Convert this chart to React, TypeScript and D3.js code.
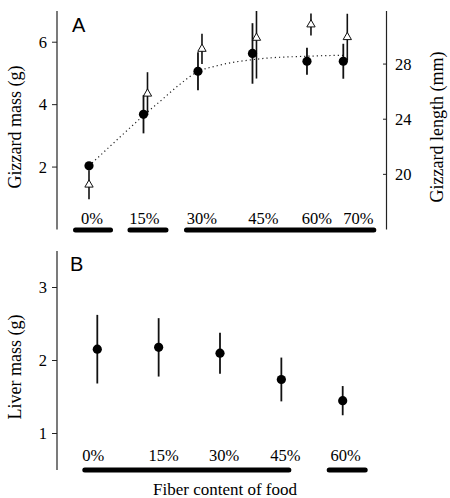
import React from 'react';
import * as d3 from 'd3';

// Panel A: gizzard mass (left axis) and gizzard length (right axis)
const fiberA = [0, 15, 30, 45, 60, 70];
const massMean = [2.04, 3.69, 5.07, 5.64, 5.39, 5.39];
const massErr = [0.08, 0.61, 0.61, 0.97, 0.43, 0.56];
const lengthMean = [19.25, 25.85, 29.1, 29.9, 30.87, 29.95];
const lengthErr = [1.05, 1.56, 1.1, 2.95, 0.8, 1.7];

// saturating fit through the mass means
const fitFiber = [0, 5, 10, 15, 20, 25, 30, 35, 40, 45, 50, 55, 60, 65, 70];
const fitMass = [2.04, 2.58, 3.12, 3.65, 4.15, 4.65, 5.06, 5.24, 5.36, 5.44, 5.5, 5.53, 5.55, 5.57, 5.58];

// Panel B: liver mass
const fiberB = [0, 15, 30, 45, 60];
const liverMean = [2.155, 2.18, 2.1, 1.74, 1.45];
const liverErr = [0.47, 0.4, 0.28, 0.3, 0.2];

// homogeneous groups (first and last category index)
const groupsA = [[0, 0], [1, 1], [2, 5]];
const groupsB = [[0, 3], [4, 4]];

const massTicks = [2, 4, 6];
const lengthTicks = [20, 24, 28];
const liverTicks = [1, 2, 3];

// layout tweaks
const labelNudgeA = [3, 1, 4, 11, 10, 15];
const labelNudgeB = [-4, 5, 4, 4, 3];
const groupPadA = [[-19, 21], [-17, 24], [-18, 18]];
const groupPadB = [[-11, 6], [-19, 22]];

const serif = '"Liberation Serif", "Times New Roman", serif';
const sans = '"Liberation Sans", Arial, sans-serif';

const App = () => {
  const xA = d3.scaleLinear().domain([0, 70]).range([89, 343.3]);
  const yMass = d3.scaleLinear().domain([0, 7]).range([229.5, 11]).clamp(true);
  const yLen = d3.scaleLinear().domain([16, 31.85]).range([229.5, 11]).clamp(true);

  const xB = d3.scaleLinear().domain([0, 60]).range([97.3, 342.7]);
  const yLiver = d3.scaleLinear().domain([0.5, 3.5]).range([470, 251]);

  const fitLine = d3
    .line<number>()
    .x((_, i) => xA(fitFiber[i]))
    .y(d => yMass(d))
    .curve(d3.curveMonotoneX);

  const tri = d3.symbol(d3.symbolTriangle, 30);
  const dodge = (i: number) => (i === 0 ? 0 : 4);

  const groupSegs = (groups: number[][], pads: number[][], labelX: (i: number) => number, y: number) =>
    groups.map(([a, b], gi) => (
      <line
        key={gi}
        x1={labelX(a) + pads[gi][0] + 2.5}
        x2={labelX(b) + pads[gi][1] - 2.5}
        y1={y}
        y2={y}
        stroke="#000"
        strokeWidth={5}
        strokeLinecap="round"
      />
    ));

  const labelXA = (i: number) => xA(fiberA[i]) + labelNudgeA[i];
  const labelXB = (i: number) => xB(fiberB[i]) + labelNudgeB[i];

  return (
    <svg width={450} height={498} style={{ position: 'absolute', left: 0, top: 0, background: '#fff' }}>
      {/* ---------- Panel A ---------- */}
      <g>
        <line x1={57} x2={57} y1={yMass.range()[1]} y2={yMass.range()[0]} stroke="#222" strokeWidth={1.2} />
        {massTicks.map(t => (
          <g key={t}>
            <line x1={52} x2={57} y1={yMass(t)} y2={yMass(t)} stroke="#222" />
            <text x={47} y={yMass(t)} dy="0.35em" textAnchor="end" fontFamily={serif} fontSize={16.5}>
              {t}
            </text>
          </g>
        ))}
        <line x1={386.5} x2={386.5} y1={yLen.range()[1]} y2={yLen.range()[0]} stroke="#222" strokeWidth={1.2} />
        {lengthTicks.map(t => (
          <g key={t}>
            <line x1={383} x2={386.5} y1={yLen(t)} y2={yLen(t)} stroke="#222" />
            <text x={395} y={yLen(t)} dy="0.35em" fontFamily={serif} fontSize={16.5}>
              {t}
            </text>
          </g>
        ))}
        <text
          transform="translate(21,127) rotate(-90)"
          textAnchor="middle"
          fontFamily={serif}
          fontSize={18}
        >
          Gizzard mass (g)
        </text>
        <text
          transform="translate(443,127) rotate(-90)"
          textAnchor="middle"
          fontFamily={serif}
          fontSize={18}
        >
          Gizzard length (mm)
        </text>
        <text x={72} y={32} fontFamily={sans} fontSize={20}>
          A
        </text>

        <path d={fitLine(fitMass) ?? ''} fill="none" stroke="#222" strokeWidth={1.2} strokeDasharray="1.2 3" />

        {/* length: open triangles */}
        {lengthMean.map((v, i) => {
          const x = xA(fiberA[i]) + dodge(i);
          return (
            <g key={`l${i}`}>
              <line x1={x} x2={x} y1={yLen(v - lengthErr[i])} y2={yLen(v + lengthErr[i])} stroke="#111" strokeWidth={1.6} />
              <path d={tri() ?? ''} transform={`translate(${x},${yLen(v)})`} fill="#fff" stroke="#111" strokeWidth={1} />
            </g>
          );
        })}

        {/* mass: filled circles */}
        {massMean.map((v, i) => {
          const x = xA(fiberA[i]);
          return (
            <g key={`m${i}`}>
              <line x1={x} x2={x} y1={yMass(v - massErr[i])} y2={yMass(v + massErr[i])} stroke="#111" strokeWidth={1.8} />
              <circle cx={x} cy={yMass(v)} r={4.6} fill="#000" />
            </g>
          );
        })}

        {fiberA.map((f, i) => (
          <text key={f} x={labelXA(i)} y={224} textAnchor="middle" fontFamily={serif} fontSize={16.5}>
            {f}%
          </text>
        ))}
        {groupSegs(groupsA, groupPadA, labelXA, 230)}
      </g>

      {/* ---------- Panel B ---------- */}
      <g>
        <line x1={57} x2={57} y1={yLiver.range()[1]} y2={yLiver.range()[0]} stroke="#222" strokeWidth={1.2} />
        {liverTicks.map(t => (
          <g key={t}>
            <line x1={52} x2={57} y1={yLiver(t)} y2={yLiver(t)} stroke="#222" />
            <text x={47} y={yLiver(t)} dy="0.35em" textAnchor="end" fontFamily={serif} fontSize={16.5}>
              {t}
            </text>
          </g>
        ))}
        <text
          transform="translate(21,367) rotate(-90)"
          textAnchor="middle"
          fontFamily={serif}
          fontSize={18}
        >
          Liver mass (g)
        </text>
        <text x={70} y={271} fontFamily={sans} fontSize={20}>
          B
        </text>

        {liverMean.map((v, i) => {
          const x = xB(fiberB[i]);
          return (
            <g key={`v${i}`}>
              <line x1={x} x2={x} y1={yLiver(v - liverErr[i])} y2={yLiver(v + liverErr[i])} stroke="#111" strokeWidth={1.8} />
              <circle cx={x} cy={yLiver(v)} r={4.6} fill="#000" />
            </g>
          );
        })}

        {fiberB.map((f, i) => (
          <text key={f} x={labelXB(i)} y={461} textAnchor="middle" fontFamily={serif} fontSize={16.5}>
            {f}%
          </text>
        ))}
        {groupSegs(groupsB, groupPadB, labelXB, 470)}

        <text x={225} y={495} textAnchor="middle" fontFamily={serif} fontSize={17}>
          Fiber content of food
        </text>
      </g>
    </svg>
  );
};

export default App;
